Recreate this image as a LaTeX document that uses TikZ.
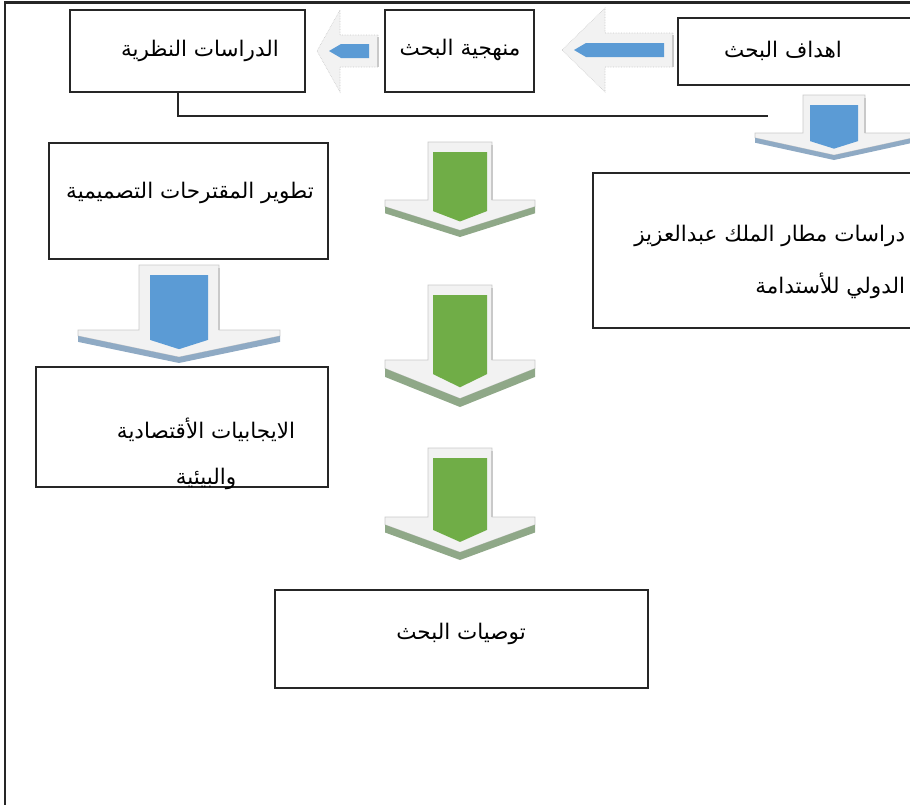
\documentclass[tikz,border=0pt]{standalone}
\usepackage{fontspec}
\usepackage{tikz}
\newfontfamily\arabicfont[Script=Arabic]{DejaVu Sans}
\TeXXeTstate=1

\definecolor{boxline}{HTML}{262626}
\definecolor{arrowgreen}{HTML}{70AD47}
\definecolor{arrowblue}{HTML}{5B9BD5}
\definecolor{arrowface}{HTML}{F2F2F2}
\definecolor{arrowedge}{HTML}{C9C9C9}
\definecolor{greenshade}{HTML}{8FA888}
\definecolor{blueshade}{HTML}{8FAAC4}

\tikzset{
  box/.style={draw=boxline, line width=2.2pt, fill=white, inner sep=0pt},
  lbl/.style={inner sep=0.75pt, font=\arabicfont\fontsize{21.5}{26}\selectfont},
  link/.style={draw=boxline, line width=1.8pt},
}

% down block arrow: cx, top, wing, bottom, shaft half, wing half, body half, body colour, shade colour
\newcommand{\downblock}[9]{%
  \pgfmathsetmacro{\chevdepth}{#4-#3}%
  \pgfmathsetmacro{\chevedge}{0.18*\chevdepth}%
  \filldraw[fill=arrowface, draw=arrowedge, line width=0.6pt] ({#1-#5},#2) -- ({#1+#5},#2) -- ({#1+#5},#3) -- ({#1+#6},#3) -- ({#1+#6},{#3+\chevedge}) -- (#1,{#4-\chevedge}) -- ({#1-#6},{#3+\chevedge}) -- ({#1-#6},#3) -- ({#1-#5},#3) -- cycle;
  \fill[#9] ({#1-#6},{#3+\chevedge}) -- (#1,{#4-\chevedge}) -- ({#1+#6},{#3+\chevedge}) -- ({#1+#6},{#3+2*\chevedge}) -- (#1,#4) -- ({#1-#6},{#3+2*\chevedge}) -- cycle;
  \draw[arrowedge, line width=1.2pt] ({#1+#5},{#2+3}) -- ({#1+#5},#3);
  \fill[#8] ({#1-#7},{#2+10}) -- ({#1+#7},{#2+10}) -- ({#1+#7},{#3+0.3*\chevdepth}) -- (#1,{#3+0.58*\chevdepth}) -- ({#1-#7},{#3+0.3*\chevdepth}) -- cycle;
}
% left block arrow: tip x, wing x, end x, cy, shaft half, wing half, body half
\newcommand{\leftblock}[7]{%
  \filldraw[fill=arrowface, draw=arrowedge, line width=0.6pt, densely dotted] (#3,{#4-#5}) -- (#2,{#4-#5}) -- (#2,{#4-#6}) -- (#1,#4) -- (#2,{#4+#6}) -- (#2,{#4+#5}) -- (#3,{#4+#5}) -- cycle;
  \draw[arrowedge, line width=1.2pt] (#3,{#4-#5+2}) -- (#3,{#4+#5});
  \fill[arrowblue] ({#3-9},{#4-#7}) -- ({#1+24},{#4-#7}) -- ({#1+12},#4) -- ({#1+24},{#4+#7}) -- ({#3-9},{#4+#7}) -- cycle;
}

\begin{document}
\begin{tikzpicture}[x=1pt,y=1pt,yscale=-1]
\useasboundingbox (0,0) rectangle (910,804);
\clip (0,0) rectangle (910,804);

%Shape: Frame
\draw[boxline, line width=2.4pt] (5,810) |- (915,2.5);

%Shape: Block arrows
\leftblock{562}{605}{673}{50}{17}{42}{7}
\leftblock{317}{340}{378}{51}{16}{41}{7}
\downblock{834}{95}{133}{160}{31}{79}{24}{arrowblue}{blueshade}
\downblock{179}{265}{330}{363}{40}{101}{29}{arrowblue}{blueshade}
\foreach \ya/\yb/\yc in {142/200/237, 285/360/407, 448/517/560}
  {\downblock{460}{\ya}{\yb}{\yc}{32}{75}{27}{arrowgreen}{greenshade}}

%Shape: Boxes
\node[box, minimum width=272pt, minimum height=67pt] (goals) at (814,51.5) {};
\node[box, minimum width=149pt, minimum height=82pt] (method) at (459.5,51) {};
\node[box, minimum width=235pt, minimum height=82pt] (theory) at (187.5,51) {};
\node[box, minimum width=279pt, minimum height=116pt] (develop) at (188.5,201) {};
\node[box, minimum width=292pt, minimum height=120pt] (benefits) at (182,427) {};
\node[box, minimum width=357pt, minimum height=155pt] (airport) at (771.5,250.5) {};
\node[box, minimum width=373pt, minimum height=98pt] (recom) at (461.5,639) {};

%Connector
\coordinate (linkend) at (768,116);
\draw[link] (theory.south -| 178,0) |- (linkend);

% Text Node
\node[lbl] (goalstext) at (783,51) {\beginR اهداف البحث\endR};
% Text Node
\node[lbl] (methodtext) at (460,50) {\beginR منهجية البحث\endR};
% Text Node
\node[lbl] (theorytext) at (200,51) {\beginR الدراسات النظرية\endR};
% Text Node
\node[lbl] (developtext) at (190,193) {\beginR تطوير المقترحات التصميمية\endR};
% Text Node
\node[lbl, align=center, font=\arabicfont\fontsize{21.5}{46}\selectfont] (benefitstext) at (206,454) {\beginR الايجابيات الأقتصادية\endR\\\beginR والبيئية\endR};
% Text Node
\node[lbl, anchor=east, align=right, font=\arabicfont\fontsize{21.5}{52}\selectfont] (airporttext) at (906,262) {\beginR دراسات مطار الملك عبدالعزيز\endR\\\beginR الدولي للأستدامة\endR};
% Text Node
\node[lbl] (recomtext) at (461,634) {\beginR توصيات البحث\endR};
\end{tikzpicture}
\end{document}
